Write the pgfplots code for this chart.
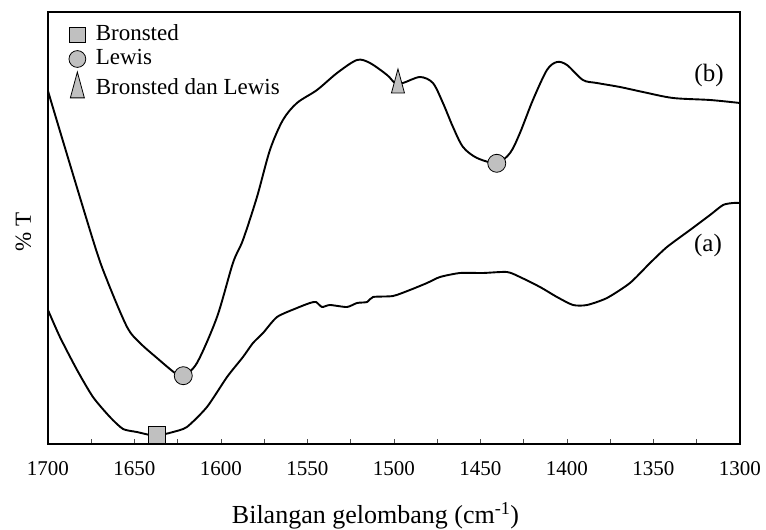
\documentclass[border=0pt]{standalone}
\usepackage{fontspec}
\setmainfont{Liberation Serif}
\usepackage{pgfplots}
\pgfplotsset{compat=1.18}
\definecolor{markgray}{HTML}{C0C0C0}
\begin{document}
\fontsize{21}{25}\selectfont
\begin{tikzpicture}
\begin{axis}[
  scale only axis, width=692pt, height=432pt,
  x dir=reverse, xmin=1300, xmax=1700, ymin=0, ymax=432,
  xtick={1300,1350,...,1700}, minor xtick={1325,1375,...,1675},
  ytick=\empty,
  xtick pos=bottom,
  tick align=inside, major tick length=5pt, minor tick length=5pt,
  every tick/.style={black!70, line width=0.8pt},
  /pgf/number format/assume math mode=true, /pgf/number format/1000 sep={},
  xticklabel style={font=\fontsize{21}{25}\selectfont, yshift=-10pt},
  axis line style={line width=1.8pt},
  xlabel={Bilangan gelombang (cm\textsuperscript{-1})},
  ylabel={\% T},
  xlabel style={at={(axis description cs:0.4733,-0.185)}, anchor=base, font=\fontsize{26}{30}\selectfont},
  ylabel style={at={(axis description cs:-0.0357,0.49)}, anchor=center, font=\fontsize{23}{27}\selectfont},
  legend image code/.code={
    \draw[#1] plot coordinates {(0pt,0pt)};
    \pgfpathrectangle{\pgfpoint{-8pt}{-5pt}}{\pgfpoint{16pt}{10pt}}
    \pgfusepath{use as bounding box}
  },
  legend style={draw=none, fill=none, at={(axis description cs:0.0303,0.9722)}, anchor=north west,
    font=\fontsize{23}{27}\selectfont, /tikz/row sep=2pt, /tikz/column sep=10pt, inner sep=0pt, outer sep=0pt,
    nodes={inner sep=0pt, text height=16pt, text depth=6pt}},
  legend cell align=left,
]
% curve (b)
\addplot[black, line width=1.9pt, smooth, tension=0.5, forget plot] coordinates {
(1700,356) (1698.8,346) (1674.0,204) (1665.9,164) (1654.3,117) (1646.8,101)
(1637.0,86) (1626.6,71) (1622.0,68) (1613.9,81) (1602.3,127) (1593.1,181)
(1587.3,204) (1579.2,247) (1571.7,294) (1564.2,324) (1556.1,341) (1544.5,354)
(1532.9,371) (1521.4,384) (1513.9,381) (1504.0,369) (1499.4,361) (1494.8,361)
(1485.0,367) (1477.5,361) (1471.7,341) (1465.9,317) (1460.1,297) (1452.0,286)
(1440.6,281) (1432.9,291) (1427.2,311) (1419.7,344) (1411.6,374) (1405.8,382)
(1400.0,379) (1390.8,364) (1382.7,361) (1369.4,357) (1356.1,352) (1338.7,346)
(1317.3,344) (1300,341)
};
% curve (a)
\addplot[black, line width=1.9pt, smooth, tension=0.4, forget plot] coordinates {
(1700,134) (1693.1,107) (1683.2,74) (1674.0,47) (1664.2,27) (1656.6,15)
(1648.6,12) (1641.0,9) (1637.0,9) (1632.4,10) (1627.7,12) (1619.7,17)
(1608.1,37) (1596.5,67) (1587.3,87) (1581.5,101) (1575.7,111) (1567.6,127)
(1556.1,136) (1548.6,141) (1545.1,142) (1541.6,137) (1537.0,139) (1527.2,137)
(1521.4,141) (1515.6,142) (1512.1,147) (1500.6,148) (1490.8,154) (1480.9,161)
(1473.4,167) (1461.8,171) (1448.6,171) (1434.7,172) (1427.2,167) (1415.6,157)
(1405.8,147) (1396.5,139) (1388.4,139) (1376.9,146) (1363.6,161) (1352.0,181)
(1342.2,197) (1328.9,214) (1317.3,229) (1309.8,239) (1304.0,241) (1300,241)
};
% markers
\addplot[only marks, mark=square*, mark size=8.3pt, mark options={fill=markgray, draw=black, line width=0.8pt}, forget plot]
  coordinates {(1637.0,9)};
\addplot[only marks, mark=*, mark size=9pt, mark options={fill=markgray, draw=black, line width=0.8pt}, forget plot]
  coordinates {(1621.8,68.3) (1440.6,280.7)};
\addplot[only marks, mark=triangle*, mark size=8pt, mark options={xscale=0.94, yscale=2, fill=markgray, draw=black, line width=0.8pt}, forget plot]
  coordinates {(1497.7,359)};
% legend
\addlegendimage{only marks, mark=square*, mark size=7.6pt, mark options={fill=markgray, draw=black, line width=0.8pt}}
\addlegendentry{Bronsted}
\addlegendimage{only marks, mark=*, mark size=8.4pt, mark options={fill=markgray, draw=black, line width=0.8pt}}
\addlegendentry{Lewis}
\addlegendimage{only marks, mark=triangle*, mark size=8.8pt, mark options={xscale=0.92, yscale=1.96, fill=markgray, draw=black, line width=0.8pt}}
\addlegendentry{Bronsted dan Lewis}
\node[font=\fontsize{25}{29}\selectfont] at (axis cs:1317.9,369) {(b)};
\node[font=\fontsize{25}{29}\selectfont] at (axis cs:1318.5,199) {(a)};
\end{axis}
\pgfresetboundingbox
\path (current axis.south west) ++(-48pt,-86pt) rectangle ++(766pt,530pt);
\end{tikzpicture}
\end{document}
